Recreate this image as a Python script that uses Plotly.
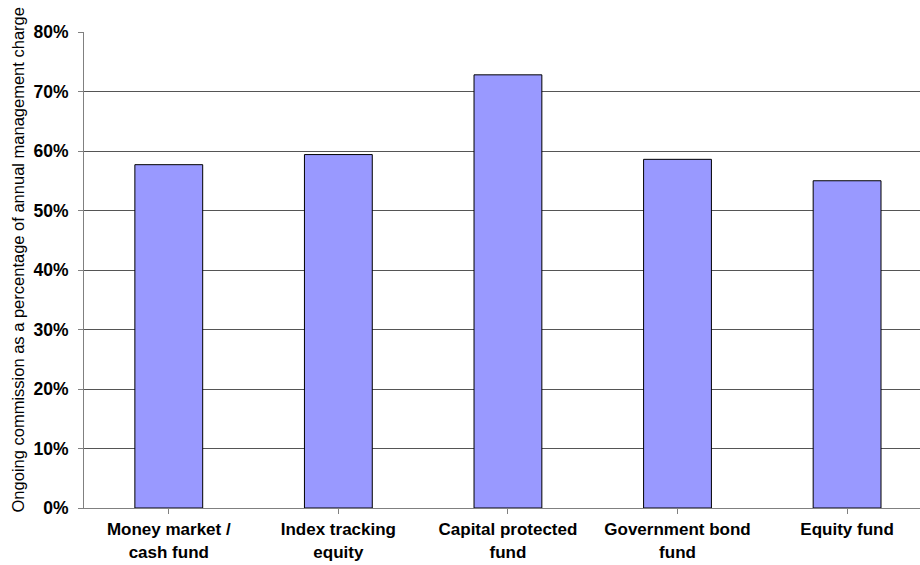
import plotly.graph_objects as go

categories = [
    "Money market /<br>cash fund",
    "Index tracking<br>equity",
    "Capital protected<br>fund",
    "Government bond<br>fund",
    "Equity fund",
]
commission_pct = [57.7, 59.4, 72.8, 58.6, 55.0]
y_ticks = [0, 10, 20, 30, 40, 50, 60, 70, 80]
y_tick_labels = [f"{v}%" for v in y_ticks]
y_title = "Ongoing commission as a percentage of annual management charge"

font_family = "Arial, Liberation Sans, sans-serif"

fig = go.Figure(
    go.Bar(
        x=list(range(len(categories))),
        y=commission_pct,
        width=0.4,
        marker=dict(color="#9999FF", line=dict(color="#000000", width=1)),
    )
)

fig.update_layout(
    width=920,
    height=565,
    margin=dict(l=84, r=0, t=32, b=57),
    paper_bgcolor="white",
    plot_bgcolor="white",
    showlegend=False,
    font=dict(family=font_family, color="black"),
)

fig.update_xaxes(
    range=[-0.5, 4.43],
    tickmode="array",
    tickvals=list(range(len(categories))),
    ticktext=[f"<b>{c}</b>" for c in categories],
    tickfont=dict(size=17, color="black"),
    ticklabelstandoff=1,
    automargin=False,
    showline=True,
    linecolor="#808080",
    linewidth=1,
    showgrid=False,
    ticks="outside",
    tickson="boundaries",
    ticklen=5,
    tickcolor="#808080",
    zeroline=False,
)

fig.update_yaxes(
    range=[0, 80],
    tickmode="array",
    tickvals=y_ticks,
    ticktext=[f"<b>{t}</b>" for t in y_tick_labels],
    tickfont=dict(size=17.5, color="black"),
    ticklabelstandoff=6,
    automargin=False,
    showline=True,
    linecolor="#808080",
    linewidth=1,
    showgrid=True,
    gridcolor="#555555",
    gridwidth=1,
    ticks="outside",
    ticklen=5,
    tickcolor="#808080",
    zeroline=False,
)

# vertical axis title, placed slightly above the plot's mid-height
fig.add_annotation(
    text=y_title,
    textangle=-90,
    xref="paper",
    yref="paper",
    x=0,
    y=0.52,
    xanchor="center",
    yanchor="middle",
    xshift=-66,
    showarrow=False,
    font=dict(size=16.5, color="black"),
)

fig.write_html("out.html")
